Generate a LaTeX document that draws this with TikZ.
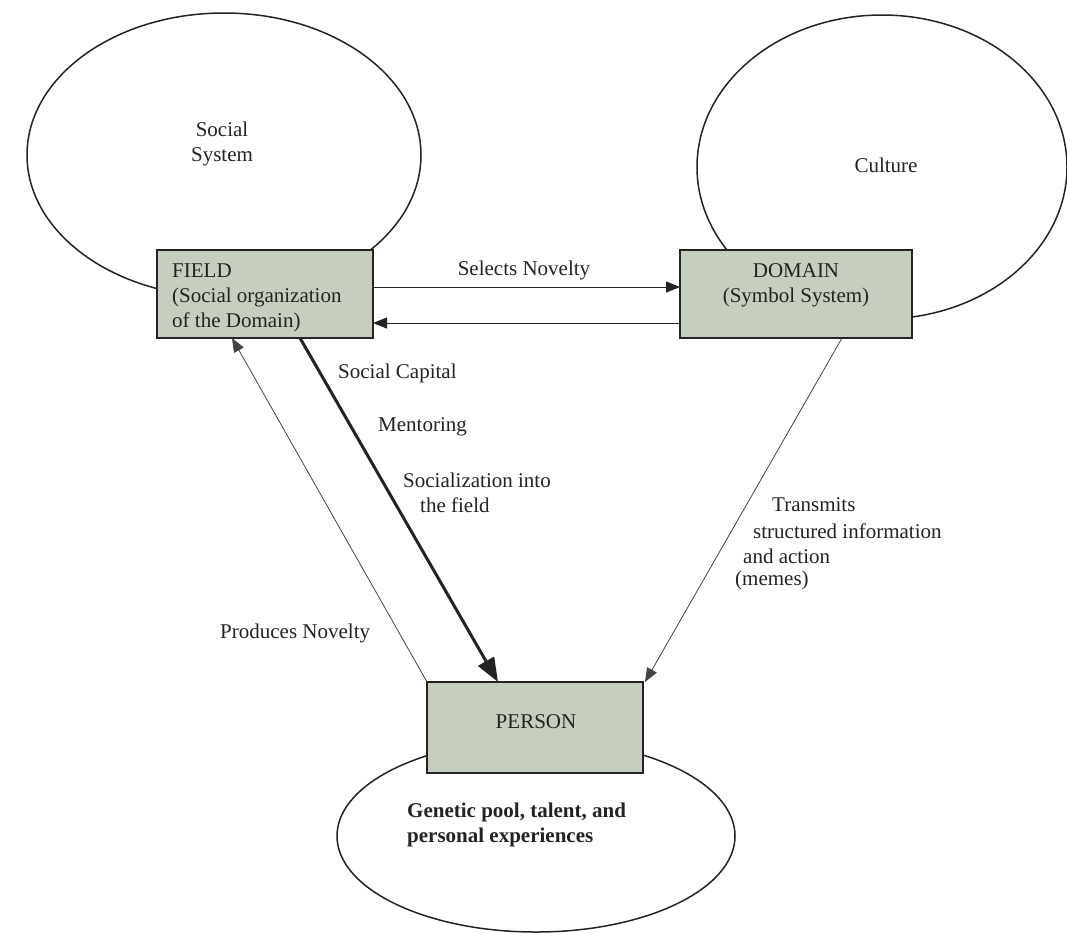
\documentclass[tikz,border=0pt]{standalone}
\usepackage{fontspec}
\setmainfont{Liberation Serif}
\usetikzlibrary{arrows.meta,shapes.geometric}
\definecolor{boxfill}{RGB}{198,206,192}
\definecolor{inkc}{RGB}{35,35,35}
\begin{document}
\begin{tikzpicture}[x=1pt,y=-1pt,
  every node/.style={font=\fontsize{21}{25}\selectfont, text=inkc},
  ell/.style={draw=inkc, line width=1.5pt, fill=white},
  gbox/.style={draw=inkc, line width=1.3pt, fill=boxfill, inner sep=0pt},
  con/.style={draw=inkc, line width=1pt, -{Triangle[length=14pt,width=11pt]}},
  faint/.style={draw=inkc!85, line width=0.8pt, -{Triangle[length=14pt,width=11pt]}},
  heavy/.style={draw=inkc, line width=3pt, -{Triangle[length=24pt,width=18pt]}},
  lbl/.style={anchor=west, align=left, inner sep=0pt}]
\useasboundingbox (0,0) rectangle (1067,932);
\fill[white] (0,0) rectangle (1067,932);
% ellipses
\draw[ell] (224,155) ellipse [x radius=197, y radius=142];
\draw[ell] (882,167) ellipse [x radius=185, y radius=152];
\draw[ell] (536,836) ellipse [x radius=199, y radius=96];
% boxes
\node[gbox, minimum width=216pt, minimum height=88pt] (field) at (265,294) {};
\node[gbox, minimum width=232pt, minimum height=88pt] (domain) at (796,294) {};
\node[gbox, minimum width=216pt, minimum height=91pt] (person) at (535,727.5) {};
% box texts
\node[lbl] (fieldtxt) at (172,298) {FIELD\\(Social organization\\of the Domain)};
\node[align=center] (domtxt) at (796,285) {DOMAIN\\(Symbol System)};
\node (persontxt) at (536,722) {PERSON};
% ellipse texts
\node[align=center] (soctxt) at (222,144) {Social\\System};
\node (culttxt) at (886,165) {Culture};
\node[lbl, font=\fontsize{21}{25}\selectfont\bfseries] (gentxt) at (407,825) {Genetic pool, talent, and\\personal experiences};
% connectors
\coordinate (fa) at (373,287);
\coordinate (da) at (680,287);
\coordinate (fb) at (373,323);
\coordinate (db) at (680,323);
\draw[con] (fa) -- (da);
\draw[con] (db) -- (fb);
\node (sel) at (524,270) {Selects Novelty};
\coordinate (hs) at (300,338);
\coordinate (he) at (498,682);
\draw[heavy] (hs) -- (he);
\coordinate (ps) at (427,682);
\coordinate (pe) at (232,338);
\draw[faint] (ps) -- (pe);
\coordinate (ts) at (842,338);
\coordinate (te) at (645,682);
\draw[faint] (ts) -- (te);
% labels
\node[lbl] (sc) at (338,373) {Social Capital};
\node[lbl] (men) at (378,427) {Mentoring};
\node[lbl] (socz) at (403,480) {Socialization into};
\node[lbl] (socz2) at (420,505) {the field};
\node[lbl] (tr) at (772,505) {Transmits};
\node[lbl] (tr2) at (753,531) {structured information};
\node[lbl] (tr3) at (743,556) {and action};
\node[lbl] (tr4) at (735,580) {(memes)};
\node[lbl] (prod) at (220,633) {Produces Novelty};
\end{tikzpicture}
\end{document}
